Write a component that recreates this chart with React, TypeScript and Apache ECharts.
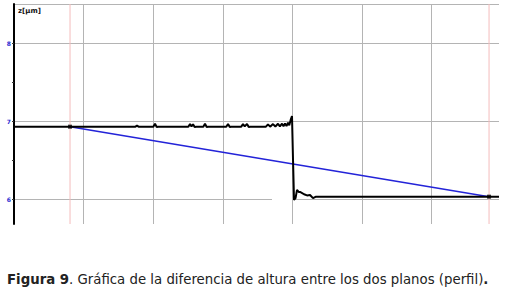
import React, { useEffect, useRef } from 'react';
import * as echarts from 'echarts';

// Profile (x in grid units, z in µm)
const profileX = [
  0, 0.805, 1.745, 1.767, 1.789,
  2.002, 2.026, 2.05, 2.07,
  2.505, 2.529, 2.55, 2.572, 2.595, 2.62,
  2.72, 2.744, 2.768, 2.79,
  3.05, 3.075, 3.1, 3.12,
  3.265, 3.29, 3.315, 3.348, 3.372, 3.395,
  3.62, 3.649, 3.68, 3.721, 3.755, 3.793, 3.82, 3.851, 3.872, 3.894, 3.915, 3.937, 3.955, 3.975, 3.994,
  4.009, 4.023, 4.045, 4.066, 4.09, 4.109, 4.14, 4.167, 4.21, 4.253, 4.296, 4.339,
  6.825, 6.968,
];
const profileZ = [
  6.933, 6.933, 6.933, 6.946, 6.933,
  6.933, 6.972, 6.928, 6.933,
  6.933, 6.968, 6.935, 6.965, 6.93, 6.933,
  6.933, 6.97, 6.93, 6.933,
  6.933, 6.968, 6.93, 6.933,
  6.933, 6.966, 6.936, 6.968, 6.93, 6.933,
  6.933, 6.962, 6.933, 6.966, 6.935, 6.97, 6.936, 6.972, 6.938, 6.975, 6.94, 6.985, 6.95, 7.02, 7.07,
  6.5, 5.997, 6.02, 6.125, 6.1, 6.099, 6.085, 6.07, 6.055, 6.06, 6.02, 6.039,
  6.039, 6.039,
];
// Fitted reference line between the two cursors
const fitX = [0.805, 6.825];
const fitZ = [6.933, 6.039];
const cursorX = [0.805, 6.825];
const zMin = 5.69;
const zMax = 8.5;
const yLabelValues = [6, 7, 8];
const yTickValues = [6, 6.5, 7, 7.5, 8];
const yName = 'z[µm]';
const captionBold = 'Figura 9';
const captionText = '. Gráfica de la diferencia de altura entre los dos planos (perfil)';

export default function App() {
  const ref = useRef<HTMLDivElement>(null);
  useEffect(() => {
    if (!ref.current) return;
    const chart = echarts.init(ref.current, null, { renderer: 'svg' });
    const grid = '#b4b4b4';
    chart.setOption({
      animation: false,
      backgroundColor: '#fff',
      grid: { left: 14, right: 9, top: 4, bottom: 69 },
      title: {
        text: `{b|${captionBold}}{n|${captionText}}{b|.}`,
        left: 2,
        top: 268,
        textStyle: {
          fontWeight: 'normal',
          rich: {
            b: { fontFamily: 'DejaVu Sans', fontSize: 13.3, fontWeight: 'bold', color: '#222' },
            n: { fontFamily: 'DejaVu Sans', fontSize: 13.3, fontWeight: 'normal', color: '#222' },
          },
        },
      },
      graphic: [
        { type: 'rect', z: 1, shape: { x: 272, y: 198, width: 20, height: 4 }, style: { fill: '#fff' } },
      ],
      xAxis: {
        type: 'value',
        min: 0,
        max: 6.968,
        interval: 1,
        axisLine: { show: false },
        axisTick: { show: false },
        axisLabel: { show: false },
        splitLine: { show: true, showMinLine: false, showMaxLine: false, lineStyle: { color: grid, width: 1 } },
      },
      yAxis: [
        {
          type: 'value',
          min: zMin,
          max: zMax,
          splitNumber: 3,
          name: yName,
          nameLocation: 'end',
          nameGap: -3,
          nameTextStyle: {
            align: 'left',
            verticalAlign: 'top',
            fontFamily: 'DejaVu Sans',
            fontSize: 7,
            fontWeight: 'bold',
            color: '#111',
            padding: [0, 0, 0, 4],
          },
          axisLine: { show: true, lineStyle: { color: '#000', width: 2 } },
          axisTick: { show: false },
          axisLabel: {
            customValues: yLabelValues,
            color: '#2a2ad0',
            fontSize: 6,
            fontWeight: 'bold',
            fontFamily: 'DejaVu Sans',
            margin: 3,
          },
          splitLine: { show: true, showMinLine: false, showMaxLine: true, lineStyle: { color: grid, width: 1 } },
        },
        {
          type: 'value',
          min: zMin,
          max: zMax,
          position: 'left',
          axisLine: { show: false },
          axisLabel: { show: false },
          splitLine: { show: false },
          axisTick: { show: true, customValues: yTickValues, length: 2, lineStyle: { color: '#333', width: 1 } },
        },
      ],
      series: [
        ...cursorX.map((x) => ({
          type: 'line',
          data: [[x, zMin], [x, zMax]],
          showSymbol: false,
          silent: true,
          lineStyle: { color: '#f4bcbc', width: 1 },
          z: 1,
        })),
        {
          type: 'line',
          data: fitX.map((x, i) => [x, fitZ[i]]),
          showSymbol: false,
          lineStyle: { color: '#2323d8', width: 1.5 },
          z: 3,
        },
        {
          type: 'line',
          data: profileX.map((x, i) => [x, profileZ[i]]),
          showSymbol: false,
          lineStyle: { color: '#000', width: 2 },
          z: 4,
        },
        {
          type: 'scatter',
          data: fitX.map((x, i) => [x, fitZ[i]]),
          symbol: 'rect',
          symbolSize: 4,
          itemStyle: { color: '#000' },
          z: 5,
        },
      ],
    });
    return () => chart.dispose();
  }, []);
  return <div ref={ref} style={{ position: 'fixed', left: 0, top: 0, width: 508, height: 293 }} />;
}
